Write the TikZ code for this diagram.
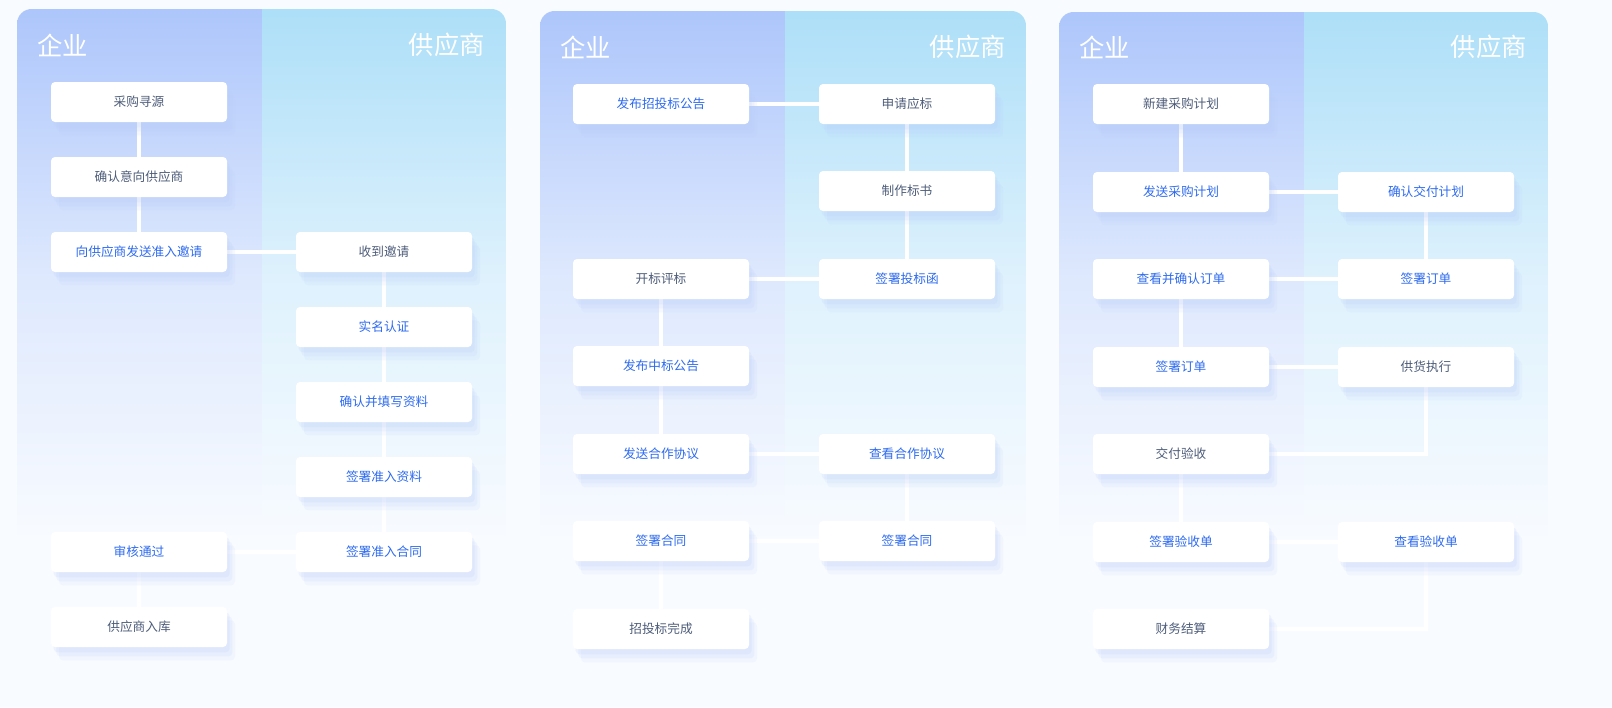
\documentclass[tikz,border=0pt]{standalone}
\usepackage{fontspec}
\setmainfont{Noto Sans CJK SC}
\pgfdeclarelayer{panel}
\pgfdeclarelayer{lines}
\pgfsetlayers{panel,lines,main}
\begin{document}
\begin{tikzpicture}[x=0.75pt,y=-0.75pt,
  box/.style={fill=white, rounded corners=3pt, minimum width=132pt, minimum height=30pt, font=\fontsize{9.5}{11}\selectfont, inner sep=0pt,
    preaction={fill=shc, fill opacity=0.12, rounded corners=8pt, transform canvas={yshift=-10pt,xshift=6pt}},
    preaction={fill=shc, fill opacity=0.15, rounded corners=6pt, transform canvas={yshift=-7pt,xshift=4pt}},
    preaction={fill=shc, fill opacity=0.18, transform canvas={yshift=-4pt,xshift=2pt}}},
  bl/.style={box,text=tblue}, gr/.style={box,text=tgray},
  ln/.style={draw=white, line width=2.4pt},
  hd/.style={text=white, font=\fontsize{19}{22}\selectfont, inner sep=0pt}]
\definecolor{bg}{HTML}{F8FBFF}
\definecolor{cL}{HTML}{ADC6FB}
\definecolor{cR}{HTML}{ADDFF8}
\definecolor{shc}{HTML}{B8CCFA}
\definecolor{tblue}{HTML}{2E6BF0}
\definecolor{tgray}{HTML}{4E5D7A}
\useasboundingbox (0,0) rectangle (1612,707);
\begin{pgfonlayer}{panel}
\fill[bg] (0,0) rectangle (1612,707);
\foreach \xa/\xm/\xb/\yt in {17/262/506/9, 540/785/1026/11, 1059/1304/1548/12}{
  \begin{scope}
  \clip[rounded corners=11pt] (\xa,\yt) rectangle (\xb,600);
  \shade[top color=cL, bottom color=bg, middle color={cL!35!bg}] (\xa,\yt) rectangle (\xm,540);
  \shade[top color=cR, bottom color=bg, middle color={cR!35!bg}] (\xm,\yt) rectangle (\xb,540);
  \end{scope}
}
\end{pgfonlayer}
\node[hd,anchor=west] (h1a) at (37,45) {企业};
\node[hd,anchor=east] (h1b) at (485,45) {供应商};
\node[hd,anchor=west] (h2a) at (560,47) {企业};
\node[hd,anchor=east] (h2b) at (1006,47) {供应商};
\node[hd,anchor=west] (h3a) at (1079,47) {企业};
\node[hd,anchor=east] (h3b) at (1527,47) {供应商};
% panel 1
\node[gr] (a1) at (139,102) {采购寻源};
\node[gr] (a2) at (139,177) {确认意向供应商};
\node[bl] (a3) at (139,252) {向供应商发送准入邀请};
\node[gr] (b1) at (384,252) {收到邀请};
\node[bl] (b2) at (384,327) {实名认证};
\node[bl] (b3) at (384,402) {确认并填写资料};
\node[bl] (b4) at (384,477) {签署准入资料};
\node[bl] (b5) at (384,552) {签署准入合同};
\node[bl] (a4) at (139,552) {审核通过};
\node[gr] (a5) at (139,627) {供应商入库};
% panel 2
\node[bl] (c1) at (661,104) {发布招投标公告};
\node[gr] (d1) at (907,104) {申请应标};
\node[gr] (d2) at (907,191) {制作标书};
\node[bl] (d3) at (907,279) {签署投标函};
\node[gr] (c2) at (661,279) {开标评标};
\node[bl] (c3) at (661,366) {发布中标公告};
\node[bl] (c4) at (661,454) {发送合作协议};
\node[bl] (d4) at (907,454) {查看合作协议};
\node[bl] (d5) at (907,541) {签署合同};
\node[bl] (c5) at (661,541) {签署合同};
\node[gr] (c6) at (661,629) {招投标完成};
% panel 3
\node[gr] (e1) at (1181,104) {新建采购计划};
\node[bl] (e2) at (1181,192) {发送采购计划};
\node[bl] (f1) at (1426,192) {确认交付计划};
\node[bl] (f2) at (1426,279) {签署订单};
\node[bl] (e3) at (1181,279) {查看并确认订单};
\node[bl] (e4) at (1181,367) {签署订单};
\node[gr] (f3) at (1426,367) {供货执行};
\node[gr] (e5) at (1181,454) {交付验收};
\node[bl] (e6) at (1181,542) {签署验收单};
\node[bl] (f4) at (1426,542) {查看验收单};
\node[gr] (e7) at (1181,629) {财务结算};
\begin{pgfonlayer}{lines}
\draw[ln] (a1) -- (a2); \draw[ln] (a2) -- (a3); \draw[ln] (a3) -- (b1);
\draw[ln] (b1) -- (b2); \draw[ln] (b2) -- (b3); \draw[ln] (b3) -- (b4); \draw[ln] (b4) -- (b5);
\draw[ln] (b5) -- (a4); \draw[ln] (a4) -- (a5);
\draw[ln] (c1) -- (d1); \draw[ln] (d1) -- (d2); \draw[ln] (d2) -- (d3); \draw[ln] (d3) -- (c2);
\draw[ln] (c2) -- (c3); \draw[ln] (c3) -- (c4); \draw[ln] (c4) -- (d4); \draw[ln] (d4) -- (d5);
\draw[ln] (d5) -- (c5); \draw[ln] (c5) -- (c6);
\draw[ln] (e1) -- (e2); \draw[ln] (e2) -- (f1); \draw[ln] (f1) -- (f2); \draw[ln] (f2) -- (e3);
\draw[ln] (e3) -- (e4); \draw[ln] (e4) -- (f3); \draw[ln] (f3.south) |- (e5.east);
\draw[ln] (e5) -- (e6); \draw[ln] (e6) -- (f4); \draw[ln] (f4.south) |- (e7.east);
\end{pgfonlayer}
\end{tikzpicture}
\end{document}
